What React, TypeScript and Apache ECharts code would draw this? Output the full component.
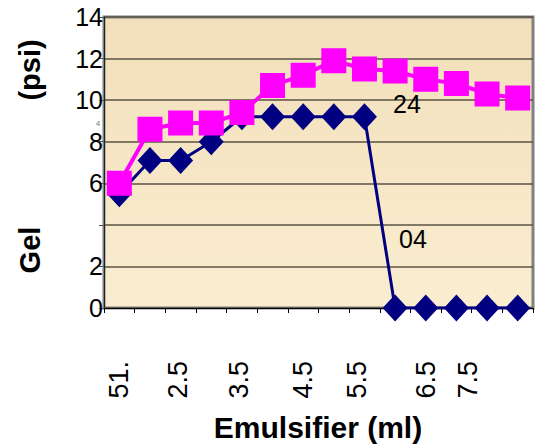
import React, { useEffect, useRef } from "react";
import * as echarts from "echarts";

const categories = ["1.5", "2", "2.5", "3", "3.5", "4", "4.5", "5", "5.5", "6", "6.5", "7", "7.5", "8"];
const xTickLabels = ["51.", "", "2.5", "", "3.5", "", "4.5", "", "5.5", "", "6.5", "", "7.5", ""];
const yTickLabels = ["0", "2", "", "6", "8", "10", "12", "14"];
const series04 = [5.5, 7.1, 7.1, 8.0, 9.2, 9.2, 9.2, 9.2, 9.2, 0, 0, 0, 0, 0];
const series24 = [6.0, 8.6, 8.9, 8.9, 9.4, 10.7, 11.2, 11.9, 11.5, 11.4, 11.0, 10.8, 10.3, 10.1];

const FONT = "'Liberation Sans', Arial, sans-serif";

export default function App() {
  const ref = useRef<HTMLDivElement>(null);
  useEffect(() => {
    document.body.style.margin = "0";
    if (!ref.current) return;
    const chart = echarts.init(ref.current, undefined, { renderer: "svg" });
    chart.setOption({
      animation: false,
      backgroundColor: "#ffffff",
      grid: {
        left: 104,
        right: 4,
        top: 17,
        bottom: 137,
        show: true,
        borderColor: "#808080",
        borderWidth: 3,
        backgroundColor: new echarts.graphic.LinearGradient(0, 0, 0, 1, [
          { offset: 0, color: "#F2DFBA" },
          { offset: 0.5, color: "#F6E6C5" },
          { offset: 1, color: "#FAEDD0" },
        ]),
      },
      xAxis: {
        type: "category",
        data: categories,
        boundaryGap: true,
        axisLine: { lineStyle: { color: "#000000", width: 1 } },
        axisTick: { show: true, inside: false, length: 5, alignWithLabel: false, interval: 0, lineStyle: { color: "#000" } },
        axisLabel: {
          interval: 0,
          rotate: 90,
          margin: 53,
          fontSize: 27,
          fontFamily: FONT,
          color: "#000",
          formatter: (_v: string, idx: number) => {
            const t = xTickLabels[idx];
            if (t === "7.5") return `{s38|${t}}`;
            if (t === "5.5") return `{s14|${t}}`;
            if (t === "2.5" || t === "3.5") return `{s6|${t}}`;
            return t;
          },
          rich: {
            s38: { fontSize: 27, fontFamily: FONT, color: "#000", padding: [0, 0, 38, 0] },
            s14: { fontSize: 27, fontFamily: FONT, color: "#000", padding: [0, 0, 14, 0] },
            s6: { fontSize: 27, fontFamily: FONT, color: "#000", padding: [0, 0, 6, 0] },
          },
        },
        splitLine: { show: false },
      },
      yAxis: {
        type: "value",
        min: 0,
        max: 14,
        interval: 2,
        axisLine: { show: true, lineStyle: { color: "#222", width: 1 } },
        axisTick: { show: true, length: 5, lineStyle: { color: "#555" } },
        axisLabel: {
          margin: 1,
          fontSize: 25,
          fontFamily: FONT,
          color: "#000",
          formatter: (v: number) => yTickLabels[Math.round(v / 2)] ?? "",
        },
        splitLine: { show: true, lineStyle: { color: "#5a5344", width: 1.6 } },
      },
      series: [
        {
          name: "04",
          type: "line",
          data: series04,
          symbol: "diamond",
          symbolSize: [25, 27],
          lineStyle: { color: "#000080", width: 3 },
          itemStyle: { color: "#000080" },
          z: 2,
        },
        {
          name: "24",
          type: "line",
          data: series24,
          symbol: "rect",
          symbolSize: 23,
          lineStyle: { color: "#FF00FF", width: 4 },
          itemStyle: { color: "#FF00FF", borderColor: "#FF00FF", borderWidth: 2 },
          z: 3,
        },
      ],
      graphic: [
        {
          type: "text",
          x: 30,
          y: 70,
          rotation: Math.PI / 2,
          style: { text: "(psi)", font: `bold 29px ${FONT}`, fill: "#000", align: "center", verticalAlign: "middle" },
        },
        {
          type: "text",
          x: 30,
          y: 250,
          rotation: Math.PI / 2,
          style: { text: "Gel", font: `bold 29px ${FONT}`, fill: "#000", align: "center", verticalAlign: "middle" },
        },
        {
          type: "text",
          x: 318,
          y: 427,
          style: { text: "Emulsifier (ml)", font: `bold 30px ${FONT}`, fill: "#000", align: "center", verticalAlign: "middle" },
        },
        {
          type: "text",
          x: 407,
          y: 104,
          z: 10,
          style: { text: "24", font: `25px ${FONT}`, fill: "#000", align: "center", verticalAlign: "middle" },
        },
        {
          type: "text",
          x: 413,
          y: 239,
          z: 10,
          style: { text: "04", font: `25px ${FONT}`, fill: "#000", align: "center", verticalAlign: "middle" },
        },
        {
          type: "text",
          x: 98,
          y: 123,
          style: { text: "4", font: `8px ${FONT}`, fill: "#777", align: "center", verticalAlign: "middle" },
        },
      ],
    });
    return () => chart.dispose();
  }, []);
  return <div ref={ref} style={{ position: "fixed", left: 0, top: 0, width: 537, height: 445 }} />;
}
